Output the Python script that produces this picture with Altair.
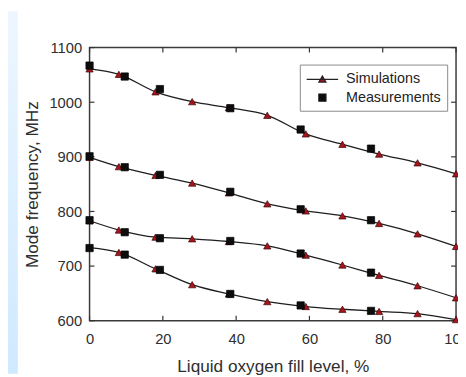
import altair as alt
import pandas as pd

# ---- data ----
sim_x = [0, 8, 18, 28, 38, 48.5, 59, 69, 79, 89.5, 100]
sim_1 = [1061, 1051, 1019, 1001, 990, 976, 942, 923, 905, 889, 869]
sim_2 = [899, 882, 866, 852, 834, 814, 801, 792, 778, 759, 736]
sim_3 = [783, 766, 753, 750, 745, 737, 720, 702, 683, 664, 642]
sim_4 = [734, 725, 695, 666, 649, 635, 626, 621, 617, 613, 602]

meas_x = [0, 9.6, 19.2, 38.4, 57.6, 76.8]
meas_1 = [1067, 1047, 1024, 989, 950, 915]
meas_2 = [901, 881, 867, 836, 804, 784]
meas_3 = [784, 762, 751, 746, 723, 688]
meas_4 = [733, 721, 693, 649, 628, 618]

x_ticks = [0, 20, 40, 60, 80, 100]
y_ticks = [600, 700, 800, 900, 1000, 1100]
types = ["Simulations", "Measurements"]

# ---- tables ----
sims = [sim_1, sim_2, sim_3, sim_4]
meas = [meas_1, meas_2, meas_3, meas_4]
line_rows, sim_rows, meas_rows = [], [], []
for i, s in enumerate(sims):
    for xv, yv in zip(sim_x, s):
        line_rows.append({"x": xv, "y": yv, "series": f"s{i}"})
        sim_rows.append({"x": xv, "y": yv})
for i, m in enumerate(meas):
    for xv, yv in zip(meas_x, m):
        meas_rows.append({"x": xv, "y": yv})
line_df = pd.DataFrame(line_rows)
sim_df = pd.DataFrame(sim_rows)
meas_df = pd.DataFrame(meas_rows)
leg_df = pd.DataFrame({"type": types, "x": [50, 50], "y": [800, 800]})
xt_df = pd.DataFrame({"x": x_ticks})
yt_df = pd.DataFrame({"y": y_ticks})

W, H = 373, 278
FONT = "Liberation Sans"
TXT = "#2e2e2e"
RED = "#a8141c"

xs = alt.Scale(domain=[0, 100], nice=False, zero=False)
ys = alt.Scale(domain=[600, 1100], nice=False, zero=False)
xaxis = alt.Axis(values=x_ticks, tickSize=0, ticks=False, domain=False, grid=False,
                 format="d",
                 labelFont=FONT, labelFontSize=15, labelColor=TXT, labelFlush=False,
                 labelBaseline="alphabetic", labelPadding=23.5,
                 titleFont=FONT, titleFontSize=17.5, titleFontWeight="normal", titleColor=TXT,
                 titleX=W / 2, titleY=51.5, titleBaseline="alphabetic", titleAlign="center")
yaxis = alt.Axis(values=y_ticks, tickSize=0, ticks=False, domain=False, grid=False,
                 format="d",
                 labelFont=FONT, labelFontSize=15, labelColor=TXT, labelFlush=False,
                 labelPadding=8,
                 titleFont=FONT, titleFontSize=17.5, titleFontWeight="normal", titleColor=TXT,
                 titleX=-53, titleY=H / 2, titleAngle=-90, titleBaseline="alphabetic",
                 titleAlign="center")
XT = "Liquid oxygen fill level, %"
YT = "Mode frequency, MHz"
X = alt.X("x:Q", scale=xs, axis=xaxis, title=XT)
Y = alt.Y("y:Q", scale=ys, axis=yaxis, title=YT)

# decorative light-blue strip at the left
grad = alt.LinearGradient(gradient="linear",
                          stops=[alt.GradientStop(color="#edf6ff", offset=0),
                                 alt.GradientStop(color="#cfe9ff", offset=1)],
                          x1=0, x2=0, y1=0, y2=1)
strip = alt.Chart(pd.DataFrame({"a": [0]})).mark_rect(color=grad).encode(
    x=alt.value(-83), x2=alt.value(-73), y=alt.value(-37), y2=alt.value(H + 54))

lines = alt.Chart(line_df).mark_line(interpolate="monotone", color="#1e1e1e",
                                     strokeWidth=1.3).encode(x=X, y=Y, detail="series:N")

tri = alt.Chart(sim_df).mark_point(filled=True, shape="triangle-up", size=55, fill=RED,
                                   stroke="#3a0606", strokeWidth=0.7, opacity=1).encode(x=X, y=Y)
sq = alt.Chart(meas_df).mark_point(filled=True, shape="square", size=55, fill="#0d0d0d",
                                   stroke="#000", strokeWidth=0.7, opacity=1).encode(x=X, y=Y)

# legend-only layer (marks invisible, legend symbols drawn)
sim_path = "M-2,0H2M0,-0.42L0.45,0.35H-0.45Z"
sq_path = "M-0.45,-0.45H0.45V0.45H-0.45Z"
legend = alt.Legend(title=None, orient="none", legendX=214, legendY=17.3,
                    strokeColor="#8a8a8a", fillColor="white", padding=6,
                    symbolSize=256, symbolStrokeWidth=1.2,
                    symbolOpacity=1, symbolOffset=8, labelOffset=15, rowPadding=2.6,
                    labelFont=FONT, labelFontSize=14.6, labelColor="#222")
leg = alt.Chart(leg_df).mark_point(opacity=0, strokeWidth=1.2).encode(
    x=X, y=Y,
    fill=alt.Fill("type:N", scale=alt.Scale(domain=types, range=[RED, "#0d0d0d"]),
                  legend=legend, sort=types),
    stroke=alt.Stroke("type:N", scale=alt.Scale(domain=types, range=["#222222", "#111111"]),
                      legend=legend, sort=types),
    shape=alt.Shape("type:N", scale=alt.Scale(domain=types, range=[sim_path, sq_path]),
                    legend=legend, sort=types),
)

tick_color = "#333"
tb = alt.Chart(xt_df).mark_rule(color=tick_color, strokeWidth=1.2).encode(
    x=X, y=alt.value(H), y2=alt.value(H - 5))
tt = alt.Chart(xt_df).mark_rule(color=tick_color, strokeWidth=1.2).encode(
    x=X, y=alt.value(0), y2=alt.value(5))
tl = alt.Chart(yt_df).mark_rule(color=tick_color, strokeWidth=1.2).encode(
    y=Y, x=alt.value(0), x2=alt.value(5))
tr = alt.Chart(yt_df).mark_rule(color=tick_color, strokeWidth=1.2).encode(
    y=Y, x=alt.value(W), x2=alt.value(W - 5))

chart = alt.layer(strip, tb, tt, tl, tr, lines, tri, sq, leg).properties(
    width=W, height=H,
    autosize=alt.AutoSizeParams(type="none"),
    padding={"left": 83, "top": 37, "right": 2, "bottom": 54},
    background="white",
).configure_view(stroke="#3a3a3a", strokeWidth=1.5)

chart.save("out.html", embed_options={"renderer": "svg", "actions": False})
